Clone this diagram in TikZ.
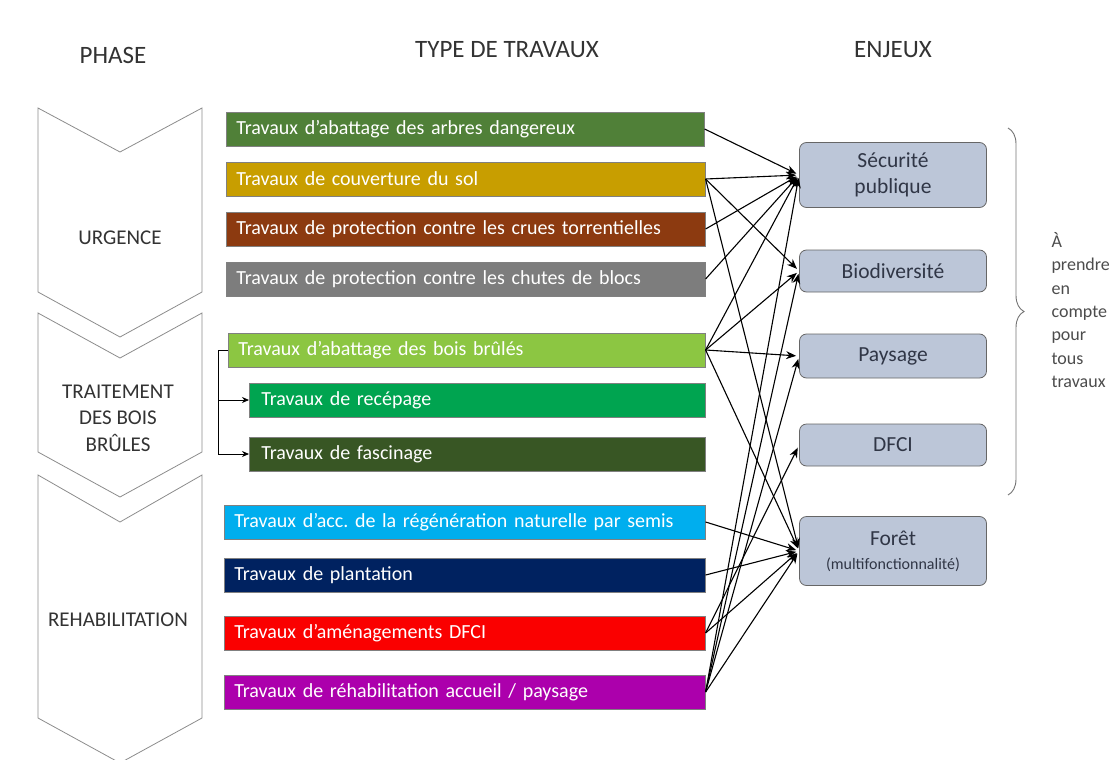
\documentclass[tikz,border=0pt]{standalone}
\usepackage{fontspec}
\setmainfont{Carlito}
\usetikzlibrary{arrows.meta,decorations.pathreplacing}
\frenchspacing
\definecolor{cUn}{RGB}{80,128,56}
\definecolor{cDeux}{RGB}{200,158,0}
\definecolor{cTrois}{RGB}{140,58,16}
\definecolor{cQuatre}{RGB}{125,125,125}
\definecolor{cCinq}{RGB}{140,198,66}
\definecolor{cSix}{RGB}{0,164,80}
\definecolor{cSept}{RGB}{56,86,36}
\definecolor{cHuit}{RGB}{0,174,238}
\definecolor{cNeuf}{RGB}{0,34,96}
\definecolor{cDix}{RGB}{250,0,0}
\definecolor{cOnze}{RGB}{172,0,172}
\definecolor{enjeu}{RGB}{188,198,216}
\definecolor{etexte}{RGB}{48,54,70}
\tikzset{
  tbox/.style={draw=black!50, line width=0.6pt, anchor=west, minimum height=34pt,
    inner xsep=10pt, align=left, text=white, font=\fontsize{20}{24}\selectfont},
  ebox/.style={draw=black!60, line width=0.8pt, fill=enjeu, rounded corners=7pt,
    minimum width=187pt, align=center, text=etexte, font=\fontsize{21.5}{26}\selectfont},
  chev/.style={draw=black!45, fill=white, line width=0.8pt},
  lien/.style={-{Stealth[length=10pt,width=8pt]}, line width=1.1pt, shorten >=3pt},
  titre/.style={text=black!80, font=\fontsize{25}{30}\selectfont},
}
\begin{document}
\begin{tikzpicture}[x=1pt, y=-1pt]
  \useasboundingbox (0,0) rectangle (1116,760);
  % titres
  \node[titre] (tphase) at (113,55) {PHASE};
  \node[titre] (ttype) at (507,50) {TYPE DE TRAVAUX};
  \node[titre] (tenjeux) at (893,50) {ENJEUX};
  % chevrons des phases
  \draw[chev] (38,108) -- (120,152) -- (202,108) -- (202,292) -- (120,337) -- (38,292) -- cycle;
  \draw[chev] (38,313) -- (120,358) -- (202,313) -- (202,452) -- (120,497) -- (38,452) -- cycle;
  \draw[chev] (38,475) -- (120,522) -- (202,475) -- (202,718) -- (120,763) -- (38,718) -- cycle;
  \node[text=black!80, font=\fontsize{21}{26.5}\selectfont] (urg) at (120,238) {URGENCE};
  \node[text=black!80, font=\fontsize{21}{26.5}\selectfont, align=center] (trait) at (118,418) {TRAITEMENT\\DES BOIS\\BRÛLES};
  \node[text=black!80, font=\fontsize{21}{26.5}\selectfont] (rehab) at (118,620) {REHABILITATION};
  % types de travaux
  \node[tbox, fill=cUn, text width=458pt] (s1) at (226,129) {Travaux d’abattage des arbres dangereux};
  \node[tbox, fill=cDeux, text width=459pt] (s2) at (226,179) {Travaux de couverture du sol};
  \node[tbox, fill=cTrois, text width=459pt] (s3) at (226,229) {Travaux de protection contre les crues torrentielles};
  \node[tbox, fill=cQuatre, text width=459pt] (s4) at (226,279) {Travaux de protection contre les chutes de blocs};
  \node[tbox, fill=cCinq, text width=457pt] (s5) at (228,350) {Travaux d’abattage des bois brûlés};
  \node[tbox, fill=cSix, inner xsep=12pt, text width=432pt] (s6) at (249,400) {Travaux de recépage};
  \node[tbox, fill=cSept, inner xsep=12pt, text width=432pt] (s7) at (249,454) {Travaux de fascinage};
  \node[tbox, fill=cHuit, text width=461pt] (s8) at (224,522) {Travaux d’acc. de la régénération naturelle par semis};
  \node[tbox, fill=cNeuf, text width=461pt] (s9) at (224,575) {Travaux de plantation};
  \node[tbox, fill=cDix, text width=461pt] (s10) at (224,633) {Travaux d’aménagements DFCI};
  \node[tbox, fill=cOnze, text width=461pt] (s11) at (224,692) {Travaux de réhabilitation accueil / paysage};
  % renvois vers recépage et fascinage
  \draw[line width=0.8pt, -{Stealth[length=7pt,width=6pt]}] (s5.west) -- ++(-10,0) |- (s7.west);
  \draw[line width=0.8pt, -{Stealth[length=7pt,width=6pt]}] ([xshift=-31pt]s6.west) -- (s6.west);
  % enjeux
  \node[ebox, minimum height=65pt] (sec) at (893,175) {Sécurité\\publique};
  \node[ebox, minimum height=42pt] (bio) at (893,271) {Biodiversité};
  \node[ebox, minimum height=44pt] (pay) at (893,356) {Paysage};
  \node[ebox, minimum height=42pt] (dfci) at (893,445) {DFCI};
  \node[ebox, minimum height=69pt] (foret) at (893,551) {Forêt\\[-2pt]{\fontsize{16}{18}\selectfont (multifonctionnalité)}};
  % liens
  \draw[lien] (s1.east) -- (sec.west);
  \foreach \e in {sec,bio,foret} \draw[lien] (s2.east) -- (\e.west);
  \draw[lien] (s3.east) -- (sec.west);
  \draw[lien] (s4.east) -- (sec.west);
  \foreach \e in {sec,bio,pay,foret} \draw[lien] (s5.east) -- (\e.west);
  \draw[lien] (s8.east) -- (foret.west);
  \draw[lien] (s9.east) -- (foret.west);
  \foreach \e in {dfci,foret} \draw[lien] (s10.east) -- (\e.west);
  \foreach \e in {sec,bio,pay,foret} \draw[lien] (s11.east) -- (\e.west);
  % accolade
  \draw[black!55, line width=0.9pt, decorate, decoration={brace, amplitude=16pt}] (1008,128) -- (1008,495);
  \node[anchor=west, align=left, text=black!70, font=\fontsize{18}{23.3}\selectfont] (note) at (1048,310) {À\\prendre\\en\\compte\\pour\\tous\\travaux};
\end{tikzpicture}
\end{document}
